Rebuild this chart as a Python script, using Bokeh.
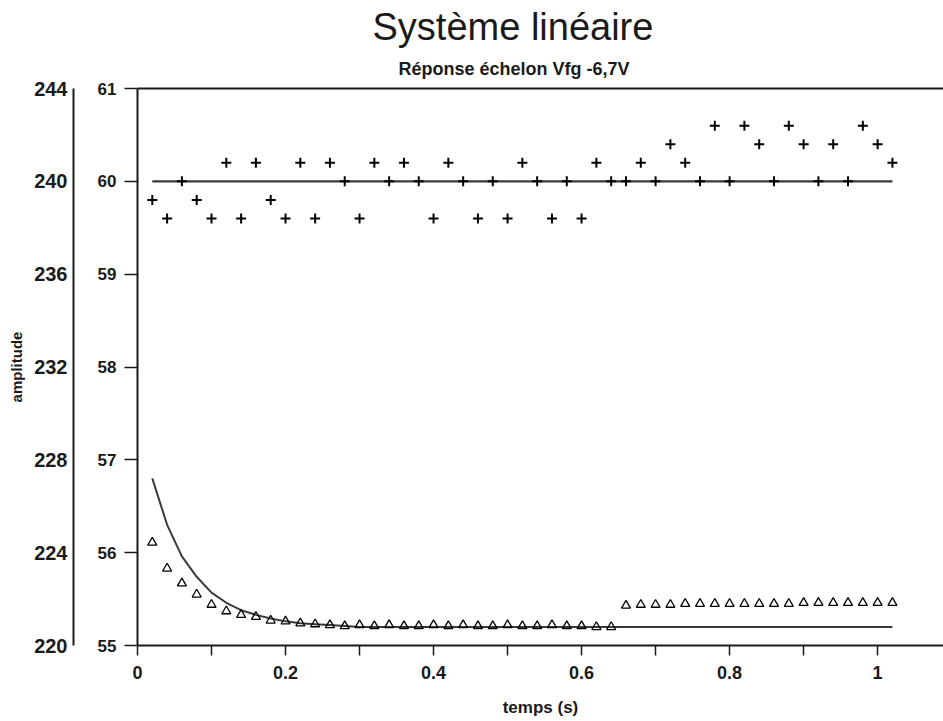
from bokeh.plotting import figure
from bokeh.models import Range1d, LinearAxis, FixedTicker, NumeralTickFormatter, Title
from bokeh.embed import file_html
from bokeh.resources import INLINE

# ---------------- data ----------------
temps = [0.02, 0.04, 0.06, 0.08, 0.10, 0.12, 0.14, 0.16, 0.18, 0.20,
         0.22, 0.24, 0.26, 0.28, 0.30, 0.32, 0.34, 0.36, 0.38, 0.40,
         0.42, 0.44, 0.46, 0.48, 0.50, 0.52, 0.54, 0.56, 0.58, 0.60,
         0.62, 0.64, 0.66, 0.68, 0.70, 0.72, 0.74, 0.76, 0.78, 0.80,
         0.82, 0.84, 0.86, 0.88, 0.90, 0.92, 0.94, 0.96, 0.98, 1.00, 1.02]

# crosses (inner scale 55..61)
mesure = [59.8, 59.6, 60.0, 59.8, 59.6, 60.2, 59.6, 60.2, 59.8, 59.6,
          60.2, 59.6, 60.2, 60.0, 59.6, 60.2, 60.0, 60.2, 60.0, 59.6,
          60.2, 60.0, 59.6, 60.0, 59.6, 60.2, 60.0, 59.6, 60.0, 59.6,
          60.2, 60.0, 60.0, 60.2, 60.0, 60.4, 60.2, 60.0, 60.6, 60.0,
          60.6, 60.4, 60.0, 60.6, 60.4, 60.0, 60.4, 60.0, 60.6, 60.4, 60.2]

# set-point line
consigne_t = [0.02, 1.02]
consigne = [60.0, 60.0]

# triangles
reponse = [56.11, 55.83, 55.67, 55.55, 55.44, 55.37, 55.33, 55.31, 55.27, 55.26,
           55.24, 55.23, 55.22, 55.21, 55.22, 55.21, 55.22, 55.21, 55.21, 55.22,
           55.21, 55.22, 55.21, 55.21, 55.22, 55.21, 55.21, 55.22, 55.21, 55.21,
           55.20, 55.20, 55.43, 55.44, 55.44, 55.44, 55.45, 55.45, 55.45, 55.45,
           55.45, 55.45, 55.45, 55.45, 55.46, 55.46, 55.46, 55.46, 55.46, 55.46, 55.46]

# model curve
modele = [56.80, 56.30, 55.96, 55.74, 55.57, 55.46, 55.38, 55.33, 55.29, 55.26,
          55.24, 55.23, 55.22, 55.21, 55.20, 55.20, 55.20, 55.20, 55.20, 55.20,
          55.20, 55.20, 55.20, 55.20, 55.20, 55.20, 55.20, 55.20, 55.20, 55.20,
          55.20, 55.20, 55.20, 55.20, 55.20, 55.20, 55.20, 55.20, 55.20, 55.20,
          55.20, 55.20, 55.20, 55.20, 55.20, 55.20, 55.20, 55.20, 55.20, 55.20, 55.20]

x_ticks = [0, 0.2, 0.4, 0.6, 0.8, 1.0]
x_minor_ticks = [0.1, 0.3, 0.5, 0.7, 0.9]
y_ticks = [55, 56, 57, 58, 59, 60, 61]
y_outer_ticks = [220, 224, 228, 232, 236, 240, 244]

FONT = "Liberation Sans"
AX = "#1a1a1a"

p = figure(width=943, height=721, output_backend="svg", toolbar_location=None,
           x_range=Range1d(0, 1.089), y_range=Range1d(55, 61),
           min_border_left=137, min_border_right=0, min_border_top=88,
           min_border_bottom=76, title=None)
p.xgrid.visible = False
p.ygrid.visible = False
p.outline_line_color = None
p.background_fill_color = "white"
p.border_fill_color = "white"

p.extra_y_ranges = {"outer": Range1d(220, 244)}

# marks
p.line(consigne_t, consigne, line_color="#3a3a3a", line_width=2.2)
p.line(temps, modele, line_color="#3a3a3a", line_width=2)
p.scatter(temps, mesure, marker="cross", size=10, line_color="black", line_width=2)
p.scatter(temps, reponse, marker="triangle", size=9, line_color="black",
          line_width=1.3, fill_color=None)

# x axis
xa = p.xaxis[0]
xa.ticker = FixedTicker(ticks=x_ticks, minor_ticks=x_minor_ticks)
xa.formatter = NumeralTickFormatter(format="0.[0]")
xa.axis_label = "temps (s)"
xa.axis_label_text_font = FONT
xa.axis_label_text_font_size = "17px"
xa.axis_label_text_font_style = "bold"
xa.axis_label_standoff = 16
xa.major_label_text_font = FONT
xa.major_label_text_font_size = "18px"
xa.major_label_text_font_style = "bold"
xa.major_label_standoff = 10
xa.major_tick_out = 10
xa.major_tick_in = 0
xa.minor_tick_out = 10
xa.minor_tick_in = 0
xa.major_tick_line_width = 1.5
xa.minor_tick_line_width = 1.5
xa.axis_line_width = 2
xa.axis_line_color = AX
xa.major_tick_line_color = AX
xa.minor_tick_line_color = AX
xa.major_label_text_color = AX
xa.axis_label_text_color = AX

# inner y axis (55..61)
ya = p.yaxis[0]
ya.ticker = FixedTicker(ticks=y_ticks)
ya.major_label_text_font = FONT
ya.major_label_text_font_size = "17px"
ya.major_label_text_font_style = "bold"
ya.major_label_standoff = 8
ya.major_tick_out = 13
ya.major_tick_in = 0
ya.minor_tick_out = 0
ya.minor_tick_in = 0
ya.major_tick_line_width = 1.5
ya.axis_line_width = 2
ya.axis_line_color = AX
ya.major_tick_line_color = AX
ya.major_label_text_color = AX
ya.axis_label = "\u00a0"
ya.axis_label_text_font_size = "16px"
ya.axis_label_standoff = 1

# outer y axis (220..244)
ya2 = LinearAxis(y_range_name="outer", ticker=FixedTicker(ticks=y_outer_ticks))
ya2.major_label_text_font = FONT
ya2.major_label_text_font_size = "20px"
ya2.major_label_text_font_style = "bold"
ya2.major_label_standoff = 6
ya2.major_tick_out = 0
ya2.major_tick_in = 0
ya2.minor_tick_out = 0
ya2.minor_tick_in = 0
ya2.axis_line_width = 2
ya2.axis_line_color = AX
ya2.major_label_text_color = AX
ya2.axis_label = "amplitude"
ya2.axis_label_text_font = FONT
ya2.axis_label_text_font_size = "15px"
ya2.axis_label_text_font_style = "bold"
ya2.axis_label_text_color = AX
ya2.axis_label_standoff = 6
p.add_layout(ya2, "left")

# top border line
top = LinearAxis(ticker=FixedTicker(ticks=[]), major_tick_out=0, major_tick_in=0,
                 minor_tick_out=0, minor_tick_in=0, axis_line_width=2,
                 axis_line_color=AX, major_label_standoff=0,
                 major_label_text_font_size="0px")
p.add_layout(top, "above")

sub = Title(text="Réponse échelon Vfg -6,7V", align="left", offset=261,
            text_font=FONT, text_font_size="18px", text_font_style="bold",
            text_color=AX, standoff=19)
p.add_layout(sub, "above")
main = Title(text="Système linéaire", align="left", offset=235,
             text_font=FONT, text_font_size="38px", text_font_style="normal",
             text_color=AX, standoff=0)
p.add_layout(main, "above")

open("out.html", "w").write(file_html(p, INLINE))
